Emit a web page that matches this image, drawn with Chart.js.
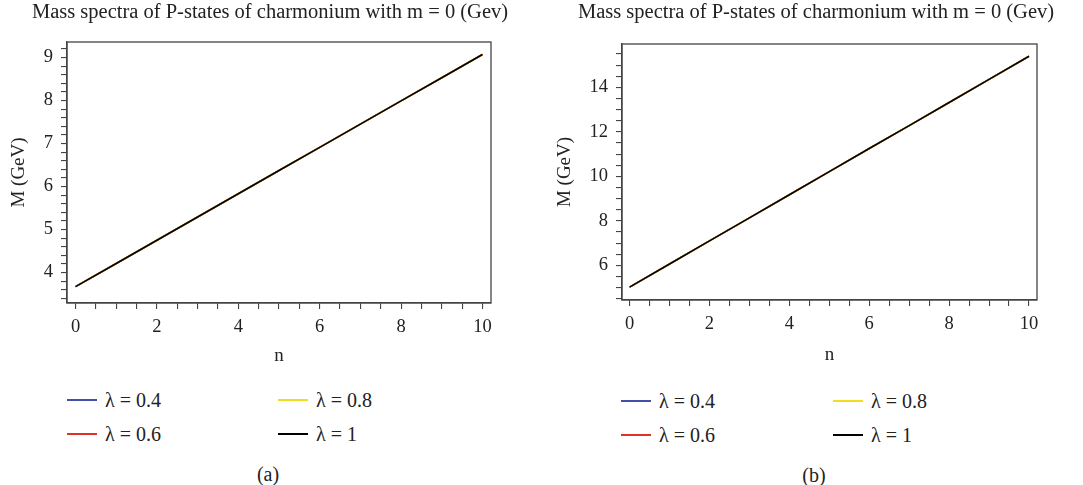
<!DOCTYPE html>
<html lang="en">
<head>
<meta charset="UTF-8">
<title>Mass spectra of P-states of charmonium</title>
<script src="https://cdn.jsdelivr.net/npm/chart.js"></script>
<style>
  body { margin: 0; background: #fff; width: 1083px; height: 485px; position: relative; overflow: hidden;
         font-family: 'Liberation Serif', 'DejaVu Serif', serif; color: #222; }
  .box { position: absolute; top: 0; height: 370px; }
  .ttl { position: absolute; top: 0; font-size: 20.5px; line-height: 22px; white-space: nowrap; transform: translateX(-50%); }
  .leg { position: absolute; font-size: 20px; line-height: 22px; white-space: nowrap; }
  .leg span.ln { position: absolute; top: 10px; height: 1.6px; }
  .cap { position: absolute; font-size: 20px; line-height: 22px; transform: translateX(-50%); }
</style>
</head>
<body>
<div class="box" style="left:0;width:541px"><canvas id="chartA"></canvas></div>
<div class="box" style="left:541px;width:542px"><canvas id="chartB"></canvas></div>
<div class="ttl" style="left:270px">Mass spectra of P-states of charmonium with m = 0 (Gev)</div>
<div class="ttl" style="left:816px">Mass spectra of P-states of charmonium with m = 0 (Gev)</div>
<div id="legends"></div>
<div class="cap" style="left:268px;top:463px">(a)</div>
<div class="cap" style="left:814px;top:464px">(b)</div>

<script>
// data; the four lambda curves lie on top of each other
const nVals = [0, 1, 2, 3, 4, 5, 6, 7, 8, 9, 10];
const lambdas = ['λ = 0.4', 'λ = 0.6', 'λ = 0.8', 'λ = 1'];
const lineColors = ['#4450a8', '#df3229', '#f2dc22', '#000000'];
// panel (a)
const massA = [3.67, 4.21, 4.75, 5.29, 5.83, 6.37, 6.91, 7.45, 7.99, 8.53, 9.07];
// panel (b)
const massB = [5.02, 6.06, 7.10, 8.13, 9.17, 10.21, 11.25, 12.28, 13.32, 14.36, 15.40];
const xMajor = [0, 2, 4, 6, 8, 10];
const yMajorA = [4, 5, 6, 7, 8, 9];
const yMajorB = [6, 8, 10, 12, 14];

const serif = "'Liberation Serif', 'DejaVu Serif', serif";
const axisCol = '#444';

// minor tick values from lo to hi in steps of 1/div
const tickList = (lo, hi, div) => {
  const out = [];
  for (let i = Math.ceil(lo * div - 1e-9); i <= Math.floor(hi * div + 1e-9); i++) out.push(i / div);
  return out;
};

// closes the plot box (top and right edges)
const frame = {
  id: 'frame',
  afterDatasetsDraw(chart) {
    const a = chart.chartArea, c = chart.ctx;
    c.save();
    c.strokeStyle = axisCol;
    c.lineWidth = 1.3;
    c.strokeRect(a.left, a.top, a.right - a.left, a.bottom - a.top);
    c.restore();
  }
};

const makeChart = (id, mass, cfg) => {
  const datasets = lambdas.map((lab, i) => ({
    label: lab,
    data: nVals.map((n, k) => ({ x: n, y: mass[k] })),
    borderColor: lineColors[i],
    borderWidth: 1.6,
    pointRadius: 0,
    tension: 0,
    order: 3 - i
  }));
  const gridOpts = { display: true, drawOnChartArea: false, drawTicks: true, tickLength: 6, color: axisCol, lineWidth: 1.1 };
  return new Chart(document.getElementById(id), {
    type: 'line',
    data: { datasets },
    plugins: [frame],
    options: {
      responsive: true,
      maintainAspectRatio: false,
      animation: false,
      layout: { padding: { left: 0, right: cfg.padRight, top: cfg.top, bottom: 0 } },
      plugins: {
        legend: { display: false },
        tooltip: { enabled: false },
        title: { display: false }
      },
      scales: {
        x: {
          type: 'linear', min: cfg.xMin, max: cfg.xMax,
          afterFit: s => { s.height = cfg.xH; },
          afterBuildTicks: s => { s.ticks = tickList(0, 10, 2).map(v => ({ value: v })); },
          border: { display: true, color: axisCol, width: 1.3 },
          grid: gridOpts,
          ticks: {
            autoSkip: false, maxRotation: 0, padding: 7, color: '#222',
            font: { family: serif, size: 18.5 },
            callback: v => xMajor.includes(v) ? String(v) : ''
          },
          title: { display: true, text: 'n', color: '#222', font: { family: serif, size: 19 }, padding: { top: 0, bottom: cfg.nPad } }
        },
        y: {
          type: 'linear', min: cfg.yMin, max: cfg.yMax,
          afterFit: s => { s.width = cfg.yW; },
          afterBuildTicks: s => { s.ticks = tickList(cfg.yMin, cfg.yMax, cfg.yDiv).map(v => ({ value: v })); },
          border: { display: true, color: axisCol, width: 1.3 },
          grid: gridOpts,
          ticks: {
            autoSkip: false, padding: 8, color: '#222',
            font: { family: serif, size: 18.5 },
            callback: v => cfg.yMajor.includes(v) ? String(v) : ''
          },
          title: { display: true, text: 'M (GeV)', color: '#222', font: { family: serif, size: 19 }, padding: { top: cfg.mPad, bottom: 0 } }
        }
      }
    }
  });
};

makeChart('chartA', massA, {
  padRight: 50, top: 42, xH: 67, yW: 67,
  xMin: -0.21, xMax: 10.21, yMin: 3.29, yMax: 9.36, yDiv: 5, yMajor: yMajorA,
  nPad: 3, mPad: 8
});
makeChart('chartB', massB, {
  padRight: 46, top: 44, xH: 70, yW: 81,
  xMin: -0.19, xMax: 10.2, yMin: 4.44, yMax: 15.95, yDiv: 2, yMajor: yMajorB,
  nPad: 4, mPad: 13
});

// legends below each panel, 2 x 2
const legPos = [
  { cols: [67, 278], rows: [389, 423], w: 30 },
  { cols: [621, 833], rows: [390, 424], w: 30 }
];
const legWrap = document.getElementById('legends');
legPos.forEach(p => {
  lambdas.forEach((lab, i) => {
    const col = Math.floor(i / 2), row = i % 2;
    const d = document.createElement('div');
    d.className = 'leg';
    d.style.left = p.cols[col] + 'px';
    d.style.top = p.rows[row] + 'px';
    d.style.paddingLeft = (p.w + 8) + 'px';
    d.innerHTML = '<span class="ln" style="left:0;width:' + p.w + 'px;background:' + lineColors[i] + '"></span>' + lab;
    legWrap.appendChild(d);
  });
});
</script>
</body>
</html>
